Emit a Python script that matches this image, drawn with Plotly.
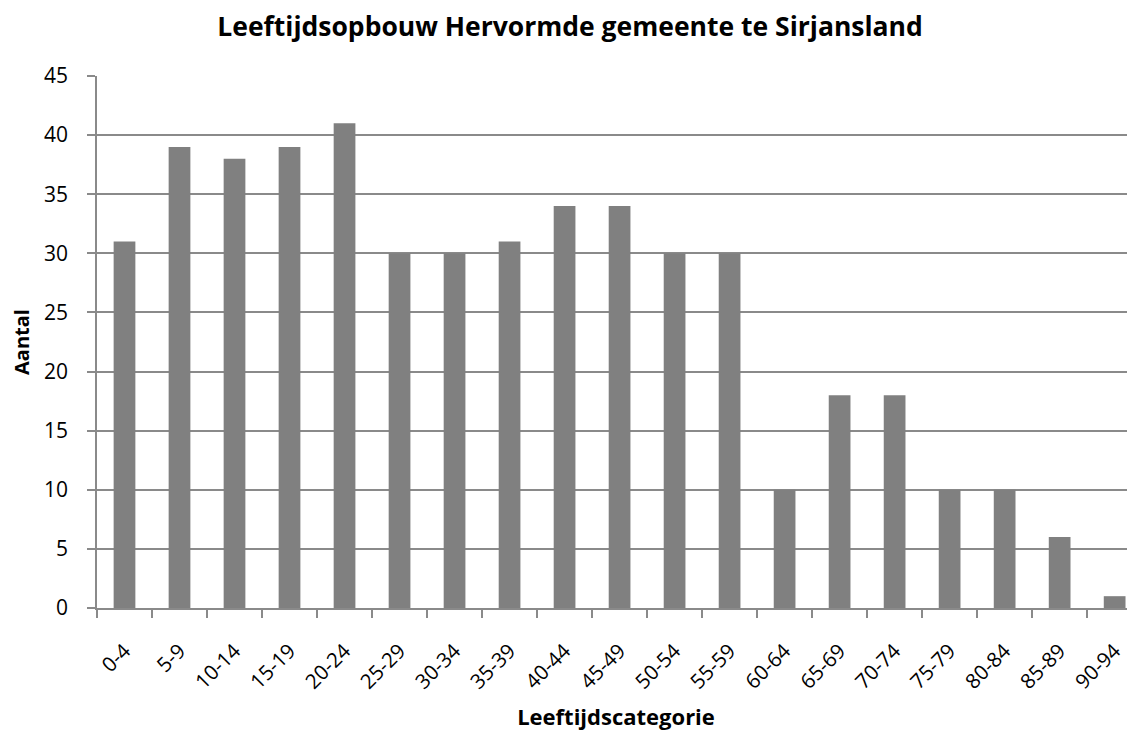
import plotly.graph_objects as go

categories = ["0-4", "5-9", "10-14", "15-19", "20-24", "25-29", "30-34", "35-39",
              "40-44", "45-49", "50-54", "55-59", "60-64", "65-69", "70-74",
              "75-79", "80-84", "85-89", "90-94"]
values = [31, 39, 38, 39, 41, 30, 30, 31, 34, 34, 30, 30, 10, 18, 18, 10, 10, 6, 1]
y_ticks = [0, 5, 10, 15, 20, 25, 30, 35, 40, 45]

FONT = "Open Sans"
GRID = "#8a8a8a"

fig = go.Figure(go.Bar(x=categories, y=values, marker=dict(color="#808080", line=dict(width=0)),
                       width=0.395))

fig.update_layout(
    width=1127, height=723,
    paper_bgcolor="white", plot_bgcolor="white",
    margin=dict(l=89, r=0, t=68, b=123),
    showlegend=False,
    font=dict(family=FONT, color="black", size=20),
    title=dict(text="<b>Leeftijdsopbouw Hervormde gemeente te Sirjansland</b>",
               x=0.4987, xanchor="center", y=0.974, yanchor="middle",
               font=dict(family=FONT, size=26.5, color="black")),
)
fig.update_xaxes(
    type="category", range=[-0.5, 18.37], automargin=False,
    showline=True, linecolor=GRID, linewidth=1.5,
    ticks="outside", tickson="boundaries", ticklen=8, tickcolor=GRID, tickwidth=1.5,
    tickangle=-45, tickfont=dict(size=20.5, family=FONT), ticklabelstandoff=21,
    showgrid=False,
    title=dict(text="<b>Leeftijdscategorie</b>", font=dict(size=22, family=FONT), standoff=16),
)
fig.update_yaxes(
    range=[0, 45], tickvals=y_ticks, automargin=False,
    showline=True, linecolor=GRID, linewidth=1.5,
    showgrid=True, gridcolor=GRID, gridwidth=1.5,
    ticks="outside", ticklen=8, tickcolor=GRID, tickwidth=1.5,
    tickfont=dict(size=21, family=FONT), ticklabelstandoff=15,
    zeroline=False,
    title=dict(text="<b>Aantal</b>", font=dict(size=20, family=FONT), standoff=10),
)

fig.write_html("out.html")
